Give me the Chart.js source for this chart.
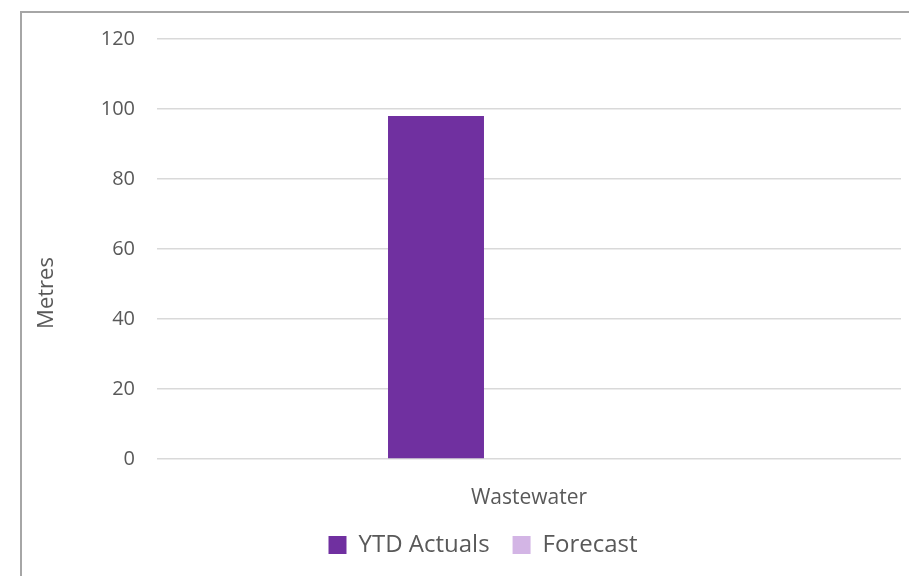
<!DOCTYPE html>
<html>
<head>
<meta charset="utf-8">
<title>Metres</title>
<script src="https://cdn.jsdelivr.net/npm/chart.js@4"></script>
<style>
  html, body {
    margin: 0;
    padding: 0;
    background: #ffffff;
    overflow: hidden;
  }
  #wrap {
    position: relative;
    width: 909px;
    height: 576px;
  }
  #frame {
    position: absolute;
    left: 20px;
    top: 11px;
    width: 900px;
    height: 600px;
    border-left: 2px solid #a6a6a6;
    border-top: 2px solid #a6a6a6;
    pointer-events: none;
  }
</style>
</head>
<body>
<div id="wrap">
  <canvas id="chart" width="909" height="576"></canvas>
  <div id="frame"></div>
</div>
<script>
const categories = ["Wastewater"];
const ytdActuals = [98];
const forecast = [0];
const seriesNames = ["YTD Actuals", "Forecast"];
const yTicks = [0, 20, 40, 60, 80, 100, 120];
const yTitle = "Metres";

const TEXT_COLOR = "#595959";
const FONT = "'Open Sans', 'DejaVu Sans', sans-serif";

// y axis title sits lower than the plot centre in the original, so draw it by hand
const yTitlePlugin = {
  id: "yTitle",
  afterDraw(chart) {
    const { ctx } = chart;
    ctx.save();
    ctx.translate(47, 293);
    ctx.rotate(-Math.PI / 2);
    ctx.font = `22px ${FONT}`;
    ctx.fillStyle = TEXT_COLOR;
    ctx.textAlign = "center";
    ctx.textBaseline = "middle";
    ctx.fillText(yTitle, 0, 0);
    ctx.restore();
  },
};

function buildConfig() {
  return {
    type: "bar",
    data: {
      labels: categories,
      datasets: [
        {
          label: seriesNames[0],
          data: ytdActuals,
          backgroundColor: "#7030a0",
          borderWidth: 0,
          categoryPercentage: 0.5,
          barPercentage: 0.516,
        },
        {
          label: seriesNames[1],
          data: forecast,
          backgroundColor: "#d3b5e5",
          borderWidth: 0,
          categoryPercentage: 0.5,
          barPercentage: 0.516,
        },
      ],
    },
    options: {
      responsive: false,
      animation: false,
      layout: {
        padding: { left: 65, right: 8, top: 39, bottom: 9 },
      },
      plugins: {
        tooltip: { enabled: false },
        legend: {
          position: "bottom",
          labels: {
            color: TEXT_COLOR,
            font: { family: FONT, size: 24 },
            boxWidth: 18,
            boxHeight: 18,
            padding: 23,
          },
        },
      },
      scales: {
        x: {
          grid: { display: false },
          border: { display: false },
          ticks: {
            color: TEXT_COLOR,
            font: { family: FONT, size: 21 },
            padding: 18,
          },
          afterFit(scale) {
            scale.height = 51;
          },
        },
        y: {
          min: yTicks[0],
          max: yTicks[yTicks.length - 1],
          afterBuildTicks(scale) {
            scale.ticks = yTicks.map((value) => ({ value }));
          },
          grid: {
            color: "#d9d9d9",
            lineWidth: 1.5,
            drawTicks: false,
          },
          border: { display: false },
          ticks: {
            color: TEXT_COLOR,
            font: { family: FONT, size: 20 },
            padding: 22,
          },
          afterFit(scale) {
            scale.width = 92;
          },
        },
      },
    },
    plugins: [yTitlePlugin],
  };
}

new Chart(document.getElementById("chart").getContext("2d"), buildConfig());
</script>
</body>
</html>
